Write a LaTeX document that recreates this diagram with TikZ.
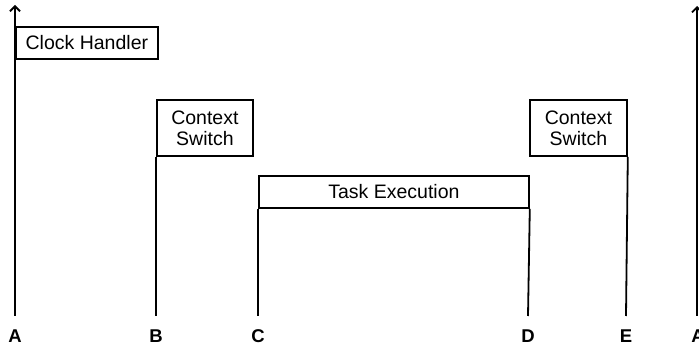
\documentclass[tikz,border=0pt]{standalone}
\usepackage{fontspec}
\setmainfont{Liberation Sans}
\usetikzlibrary{arrows.meta}
\begin{document}
\begin{tikzpicture}[x=1pt,y=-1pt,
  evbox/.style={draw=black,line width=1.8pt,inner sep=0pt,anchor=north west,align=center,
    font=\fontsize{19.5}{21}\selectfont},
  tline/.style={draw=black,line width=1.8pt},
  tarrow/.style={tline,-{Straight Barb[length=5pt,width=10pt,line width=1.8pt]}},
  lbl/.style={anchor=base,inner sep=0pt,font=\fontsize{18.5}{20}\selectfont\bfseries}]
\useasboundingbox (0,0) rectangle (699,344);
% boxes
\node[evbox,minimum width=142pt,minimum height=32pt] (clock) at (15,26) {Clock Handler};
\node[evbox,minimum width=96pt,minimum height=56pt] (cs1) at (156,99) {Context\\Switch};
\node[evbox,minimum width=270pt,minimum height=32pt] (task) at (258,175) {Task Execution};
\node[evbox,minimum width=97pt,minimum height=56pt] (cs2) at (529,99) {Context\\Switch};
% line end coordinates
\coordinate (a0) at (15,316);
\coordinate (a1) at (15,5);
\coordinate (b0) at (156,316);
\coordinate (c0) at (258,316);
\coordinate (d0) at (528,316);
\coordinate (e0) at (626,316);
\coordinate (f0) at (697,316);
\coordinate (f1) at (697,6);
% connectors
\draw[tarrow] (a0) -- (a1);
\draw[tline] (b0) -- (cs1.south west);
\draw[tline] (c0) -- (task.south west);
\draw[tline] (d0) -- (task.south east);
\draw[tline] (e0) -- (cs2.south east);
\draw[tarrow] (f0) -- (f1);
% labels
\node[lbl] (la) at (15,342.5) {A};
\node[lbl] (lb) at (156,342.5) {B};
\node[lbl] (lc) at (258,342.5) {C};
\node[lbl] (ld) at (528,342.5) {D};
\node[lbl] (le) at (626,342.5) {E};
\node[lbl] (lf) at (698,342.5) {A};
\end{tikzpicture}
\end{document}
